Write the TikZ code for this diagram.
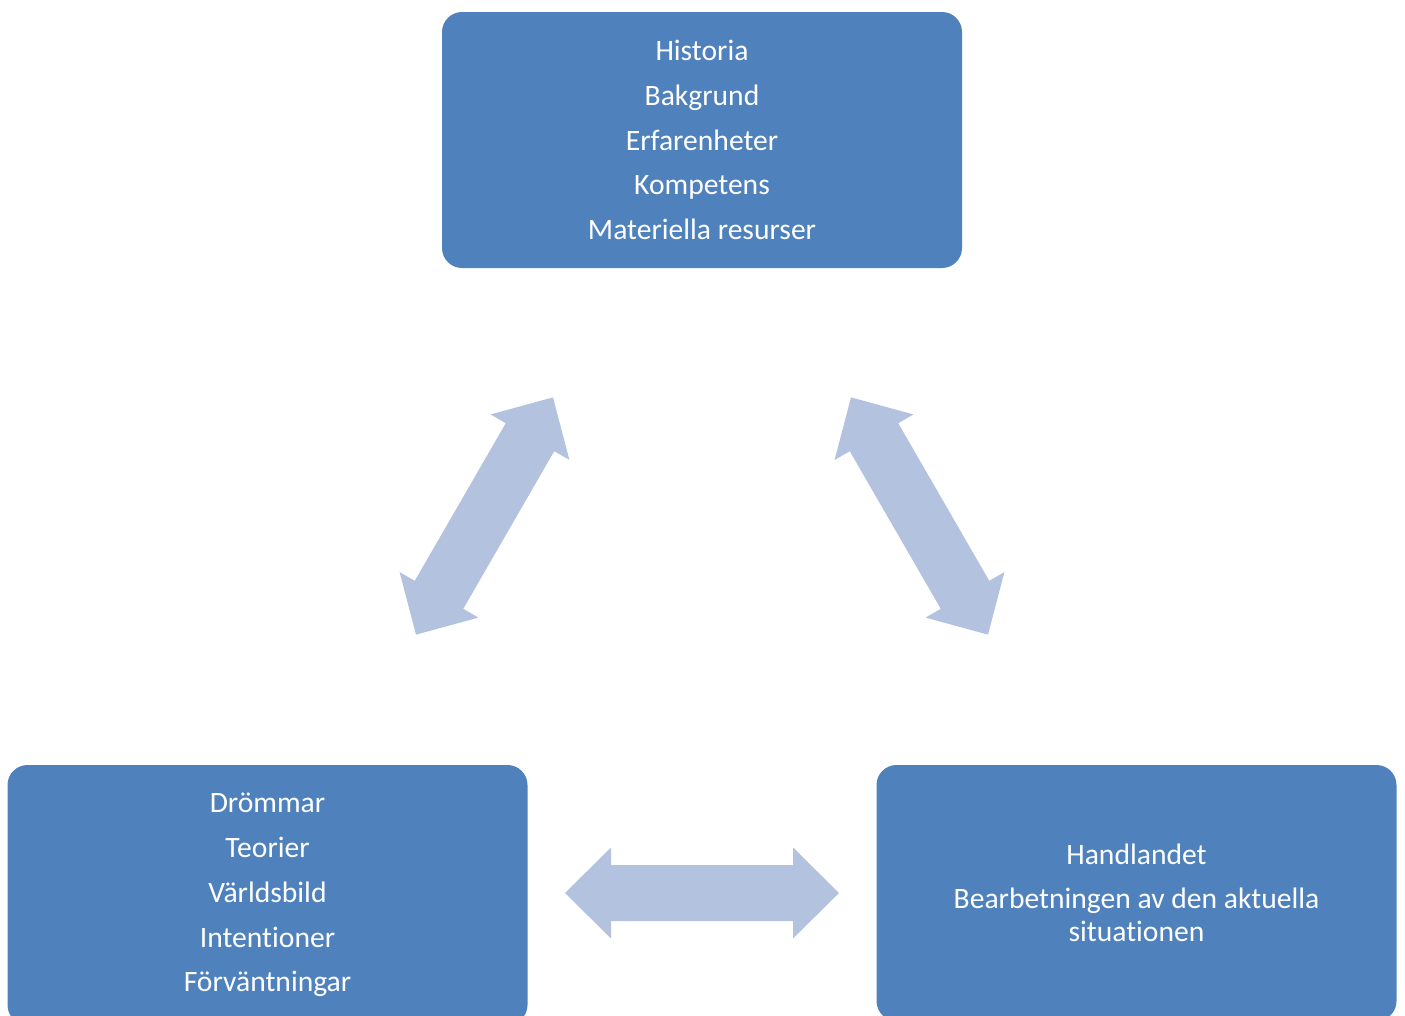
\documentclass[tikz,border=0pt]{standalone}
\usepackage{fontspec}
\setmainfont[Ligatures={NoCommon}]{Carlito}
\definecolor{boxblue}{RGB}{79,129,189}
\definecolor{arrowblue}{RGB}{179,194,222}
\tikzset{
  infobox/.style={fill=boxblue, draw=none, rounded corners=20pt, minimum width=520pt, minimum height=256pt, text=white, align=center, inner sep=0pt},
  widelines/.style={font={\fontsize{29.6}{44.8}\selectfont}},
  narrowlines/.style={font={\fontsize{29.6}{33}\selectfont}},
  bigarrow/.style={fill=arrowblue, draw=none}
}
\newcommand{\dblarrow}[3]{%
  \begin{scope}[shift={(#1,#2)}, rotate=#3]
    \fill[bigarrow] (-137,0) -- (-91,45.5) -- (-91,28) -- (91,28) -- (91,45.5) -- (137,0) -- (91,-45.5) -- (91,-28) -- (-91,-28) -- (-91,-45.5) -- cycle;
  \end{scope}}
\begin{document}
\begin{tikzpicture}[x=1pt,y=-1pt]
\useasboundingbox (0,0) rectangle (1405,1015);
\clip (0,0) rectangle (1405,1015);
\node[infobox, widelines] (top) at (702,140) {Historia\\Bakgrund\\Erfarenheter\\Kompetens\\Materiella resurser};
\node[infobox, widelines, minimum height=260pt] (left) at (267.5,895) {Drömmar\\Teorier\\Världsbild\\Intentioner\\Förväntningar};
\node[infobox, narrowlines] (right) at (1136.5,893) {Handlandet\\[11pt]Bearbetningen av den aktuella\\situationen};
\dblarrow{484.5}{516}{60}
\dblarrow{919.5}{516}{-60}
\dblarrow{702}{893}{0}
\end{tikzpicture}
\end{document}
